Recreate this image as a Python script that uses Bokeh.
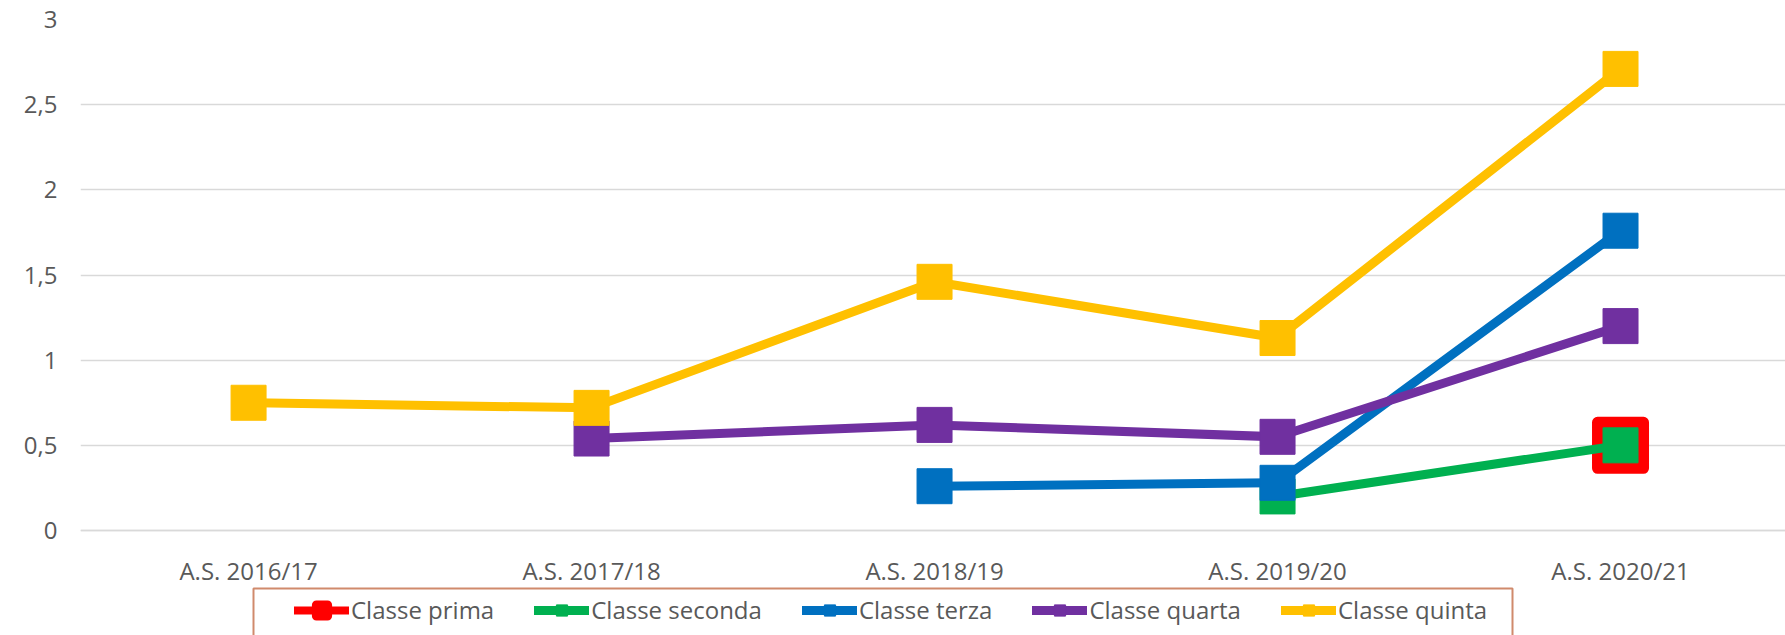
from bokeh.plotting import figure
from bokeh.models import FixedTicker, Legend, LegendItem, Range1d, BoxAnnotation
from bokeh.embed import file_html
from bokeh.resources import INLINE

categories = ["A.S. 2016/17", "A.S. 2017/18", "A.S. 2018/19", "A.S. 2019/20", "A.S. 2020/21"]
series_names = ["Classe prima", "Classe seconda", "Classe terza", "Classe quarta", "Classe quinta"]
prima = [None, None, None, None, 0.5]
seconda = [None, None, None, 0.2, 0.5]
terza = [None, None, 0.26, 0.28, 1.76]
quarta = [None, 0.54, 0.62, 0.55, 1.20]
quinta = [0.75, 0.72, 1.46, 1.13, 2.71]
series_values = [prima, seconda, terza, quarta, quinta]
colors = ["#FF0000", "#00B050", "#0070C0", "#7030A0", "#FFC000"]
y_ticks = [0, 0.5, 1, 1.5, 2, 2.5, 3]
y_tick_labels = ["0", "0,5", "1", "1,5", "2", "2,5", "3"]

TXT = "#595959"
GRID = "#D9D9D9"

W, H = 1785, 635
LEFT, TOP, BOTTOM_OF_DATA = 80, 19, 530
ppu = (BOTTOM_OF_DATA - TOP) / 3.0
y_lo = -(H - BOTTOM_OF_DATA) / ppu

p = figure(width=W, height=H, output_backend="svg", toolbar_location=None,
           x_range=Range1d(-0.49, 4.481), y_range=Range1d(y_lo, 3),
           min_border_left=LEFT, min_border_right=0, min_border_top=TOP, min_border_bottom=0)
p.outline_line_color = None
p.background_fill_color = "white"
p.border_fill_color = "white"

p.xgrid.visible = False
p.ygrid.grid_line_color = GRID
p.ygrid.grid_line_width = 1.5
p.ygrid.ticker = FixedTicker(ticks=y_ticks)

p.yaxis.ticker = FixedTicker(ticks=y_ticks)
p.yaxis.major_label_overrides = {t: l for t, l in zip(y_ticks, y_tick_labels)}
p.yaxis.axis_line_color = None
p.yaxis.major_tick_line_color = None
p.yaxis.minor_tick_line_color = None
p.yaxis.major_label_standoff = 17
p.yaxis.major_label_text_font = "Open Sans"
p.yaxis.major_label_text_font_size = "24px"
p.yaxis.major_label_text_color = TXT

idx = list(range(len(categories)))
p.xaxis.fixed_location = 0
p.xaxis.ticker = FixedTicker(ticks=idx)
p.xaxis.major_label_overrides = {i: c for i, c in zip(idx, categories)}
p.xaxis.axis_line_color = GRID
p.xaxis.axis_line_width = 1.5
p.xaxis.major_tick_line_color = None
p.xaxis.minor_tick_line_color = None
p.xaxis.major_label_standoff = 17
p.xaxis.major_label_text_font = "Open Sans"
p.xaxis.major_label_text_font_size = "24px"
p.xaxis.major_label_text_color = TXT

items = []
for k, (name, vals, col) in enumerate(zip(series_names, series_values, colors)):
    xs = [i for i, v in zip(idx, vals) if v is not None]
    ys = [v for v in vals if v is not None]
    ln = p.line(xs, ys, line_color=col, line_width=9, line_cap="round", line_join="round")
    if k == 0:
        sc = p.scatter(xs, ys, marker="square", size=46, fill_color=col, line_color=col,
                       line_width=11, line_join="round")
        lg_ln = p.line([0], [float("nan")], line_color=col, line_width=8, line_cap="round")
        lg_sc = p.scatter([0], [float("nan")], marker="square", size=36, fill_color=col,
                          line_color=col, line_width=9, line_join="round")
        items.append(LegendItem(label=name, renderers=[lg_ln, lg_sc]))
    else:
        sc = p.scatter(xs, ys, marker="square", size=35, fill_color=col, line_color=col, line_width=1)
        items.append(LegendItem(label=name, renderers=[ln, sc]))

# legend frame (screen units: x from frame left, y from frame bottom)
box = BoxAnnotation(left=253 - LEFT, right=1512 - LEFT, top=H - 588, bottom=-30,
                    left_units="screen", right_units="screen", top_units="screen", bottom_units="screen",
                    fill_color="white", fill_alpha=1, line_color="#D08A6C", line_alpha=1,
                    line_width=2)
p.add_layout(box)

legend = Legend(items=items, orientation="horizontal", location=(214, 9),
                glyph_width=55, glyph_height=28, label_standoff=2, spacing=40,
                padding=0, margin=0,
                label_text_font="Open Sans", label_text_font_size="24px",
                label_text_color=TXT, border_line_color=None, background_fill_alpha=0)
p.add_layout(legend, "center")

open("out.html", "w").write(file_html(p, INLINE))
